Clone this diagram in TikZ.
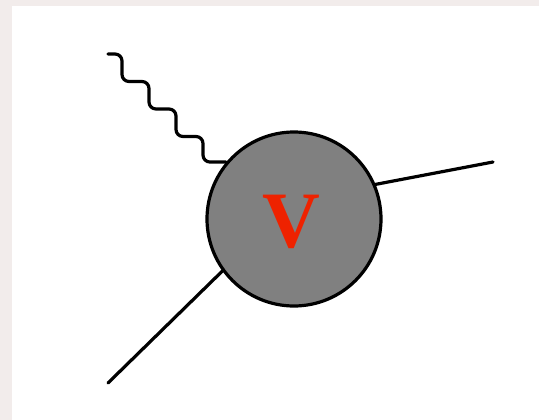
\documentclass[tikz,border=0pt]{standalone}
\usepackage{fontspec}
\setmainfont{Liberation Serif}
\usepackage{tikz}
\usetikzlibrary{positioning}
\definecolor{EdgeGrey}{HTML}{F2ECEB}
\definecolor{BlobGrey}{HTML}{808080}
\definecolor{VertexRed}{HTML}{EE2200}

\begin{document}
\begin{tikzpicture}[x=1pt,y=-1pt,
    leg/.style={line width=3.2pt,line cap=round},
    photon/.style={leg,rounded corners=7pt},
    blob/.style={circle,draw,line width=3.2pt,fill=BlobGrey,minimum size=174pt,inner sep=0pt}]
  \fill[EdgeGrey] (0,0) rectangle (539,420);
  \fill[white] (12,6) rectangle (539,420);
  \node[blob] (V) at (294,219) {};
  \node[text=VertexRed,font=\bfseries\fontsize{80}{80}\selectfont] (Vlabel) at (291,222) {V};
  \coordinate (gin) at (108,54);
  \coordinate (qout) at (493,162);
  \coordinate (qin) at (108,383);
  \draw[photon] (gin) -- ++(14,0) \foreach \k in {1,2,3} { -- ++(0,27.5) -- ++(27,0) } |- (V.140);
  \draw[leg] (V.23) -- (qout);
  \draw[leg] (V.216) -- (qin);
\end{tikzpicture}
\end{document}
